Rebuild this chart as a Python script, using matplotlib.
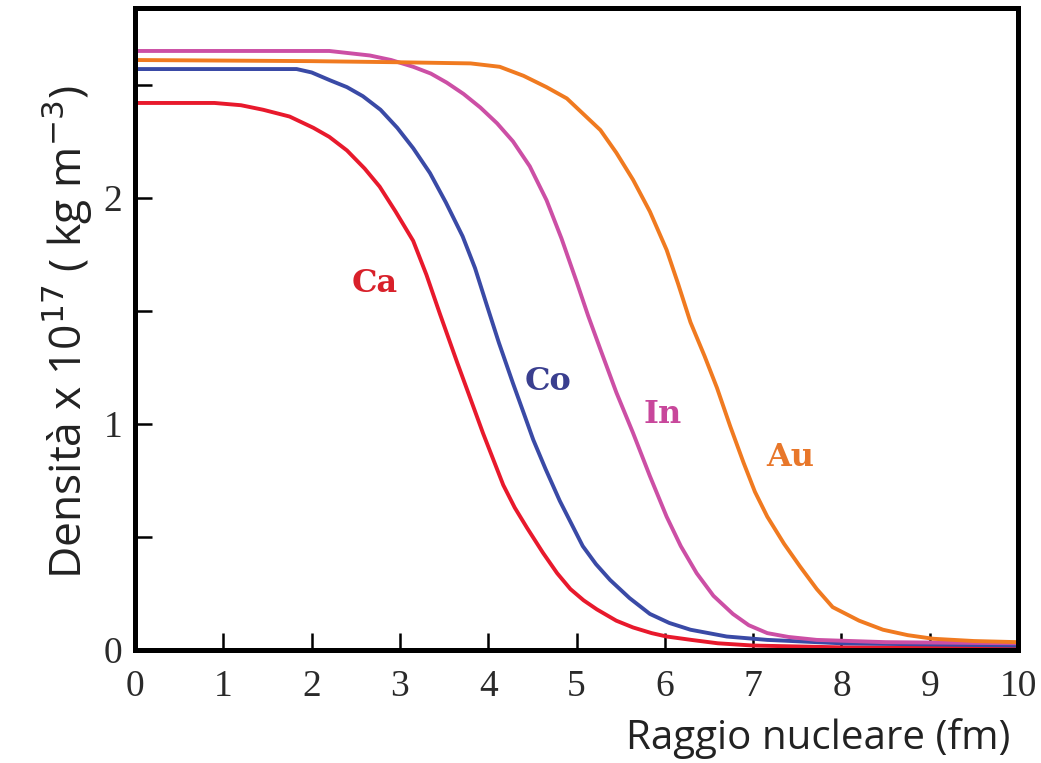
import matplotlib
matplotlib.use("Agg")
import matplotlib.pyplot as plt

# ---- data ----
ca_r = [0, 0.9, 1.2, 1.45, 1.75, 2.02, 2.2, 2.40, 2.6, 2.77, 2.95, 3.15, 3.30, 3.45, 3.65, 3.80,
        3.94, 4.05, 4.17, 4.30, 4.44, 4.62, 4.78, 4.93, 5.08, 5.23, 5.45, 5.64, 5.85, 6.02,
        6.3, 6.6, 7.0, 8.0, 10]
ca_rho = [2.42, 2.42, 2.41, 2.39, 2.36, 2.31, 2.27, 2.21, 2.13, 2.05, 1.94, 1.81, 1.66, 1.49, 1.27, 1.11,
          0.96, 0.85, 0.73, 0.63, 0.54, 0.43, 0.34, 0.27, 0.22, 0.18, 0.13, 0.10, 0.075, 0.06,
          0.045, 0.03, 0.02, 0.012, 0.01]

co_r = [0, 1.83, 2.0, 2.21, 2.4, 2.58, 2.78, 2.97, 3.15, 3.34, 3.52, 3.71, 3.85, 3.98, 4.12, 4.28,
        4.40, 4.51, 4.65, 4.81, 4.94, 5.07, 5.22, 5.38, 5.6, 5.83, 6.05, 6.29, 6.7, 7.16, 8.0, 9.0, 10]
co_rho = [2.57, 2.57, 2.555, 2.52, 2.49, 2.45, 2.39, 2.31, 2.22, 2.11, 1.98, 1.83, 1.69, 1.53, 1.36, 1.18,
          1.05, 0.93, 0.80, 0.66, 0.56, 0.46, 0.38, 0.31, 0.23, 0.16, 0.12, 0.09, 0.06, 0.045, 0.03, 0.025, 0.02]

in_r = [0, 2.2, 2.66, 2.9, 3.15, 3.35, 3.53, 3.72, 3.91, 4.1, 4.28, 4.47, 4.66, 4.83, 5.0, 5.13,
        5.27, 5.45, 5.64, 5.83, 6.02, 6.18, 6.36, 6.55, 6.77, 6.95, 7.16, 7.4, 7.72, 8.5, 10]
in_rho = [2.65, 2.65, 2.63, 2.61, 2.58, 2.55, 2.51, 2.46, 2.40, 2.33, 2.25, 2.14, 1.99, 1.82, 1.63, 1.48,
          1.33, 1.14, 0.96, 0.77, 0.59, 0.46, 0.34, 0.24, 0.16, 0.11, 0.075, 0.058, 0.045, 0.035, 0.03]

au_r = [0, 2.0, 3.0, 3.8, 4.13, 4.4, 4.66, 4.89, 5.08, 5.27, 5.45, 5.64, 5.83, 6.02, 6.15, 6.29,
        6.45, 6.59, 6.74, 6.89, 7.02, 7.16, 7.35, 7.53, 7.72, 7.90, 8.2, 8.47, 8.75, 9.04, 9.5, 10]
au_rho = [2.61, 2.605, 2.60, 2.595, 2.58, 2.54, 2.49, 2.44, 2.37, 2.30, 2.20, 2.08, 1.94, 1.77, 1.62, 1.45,
          1.30, 1.16, 0.99, 0.83, 0.70, 0.59, 0.47, 0.37, 0.27, 0.19, 0.13, 0.09, 0.066, 0.05, 0.04, 0.035]

labels = ["Ca", "Co", "In", "Au"]
label_x = [2.71, 4.68, 5.98, 7.42]
label_y = [1.62, 1.19, 1.04, 0.85]

x_ticks = list(range(0, 11))
y_major = [0, 1, 2]
y_minor = [0.5, 1.5, 2.5]

# ---- style ----
line_colors = ["#e8192c", "#3a4aa6", "#cc4fa5", "#f07a20"]
text_colors = ["#d8202a", "#3a3f8f", "#c8479b", "#e8772a"]

fig = plt.figure(figsize=(10.41, 7.63), dpi=100)
ax = fig.add_axes([0.1297, 0.148, 0.8483, 0.8415])

series = [(ca_r, ca_rho), (co_r, co_rho), (in_r, in_rho), (au_r, au_rho)]
for (r, rho), c in zip(series, line_colors):
    ax.plot(r, rho, color=c, lw=2.8, solid_joinstyle="round")

for t, x, y, c in zip(labels, label_x, label_y, text_colors):
    ax.text(x, y, t, color=c, fontsize=23, fontweight="bold",
            family="DejaVu Serif", ha="center", va="center")

ax.set_xlim(0, 10)
ax.set_ylim(0, 2.84)
ax.set_xticks(x_ticks)
ax.set_yticks(y_major)
ax.set_yticks(y_minor, minor=True)

for s in ax.spines.values():
    s.set_linewidth(3.6)

ax.tick_params(axis="both", which="both", direction="in", width=1.8,
               length=12, top=False, right=False)
ax.tick_params(axis="x", pad=14)
ax.tick_params(axis="y", pad=9)
for lab in ax.get_xticklabels() + ax.get_yticklabels():
    lab.set_family("Liberation Serif")
    lab.set_fontsize(27)
    lab.set_color("#2a2a2a")

ax.set_xlabel("Raggio nucleare (fm)", fontsize=29, family="Open Sans",
              color="#222222", ha="right", va="center")
ax.xaxis.set_label_coords(0.991, -0.138)
ax.set_ylabel("Densità x 10$^{17}$ ( kg m$^{-3}$)", fontsize=32,
              family="Open Sans", color="#222222", va="center")
ax.yaxis.set_label_coords(-0.077, 0.495)

fig.savefig("out.png", dpi=100)
